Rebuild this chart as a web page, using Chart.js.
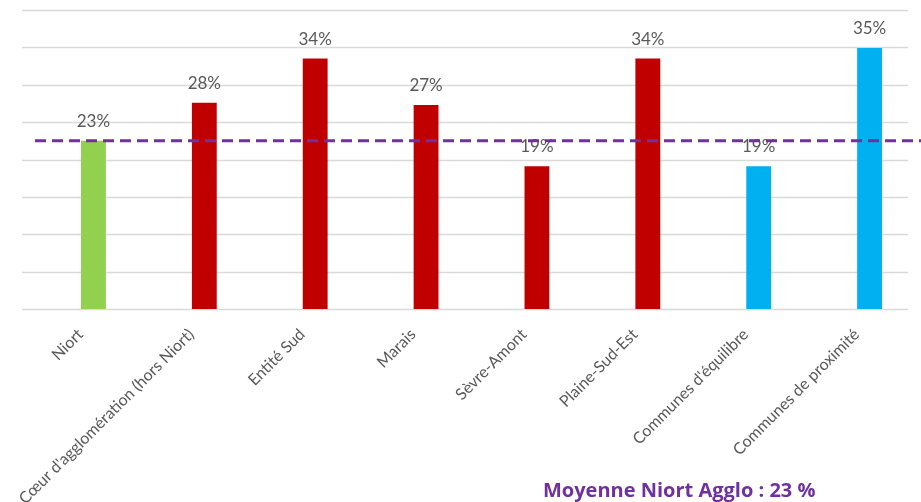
<!DOCTYPE html>
<html lang="fr">
<head>
    <meta charset="UTF-8">
    <title>Part par secteur</title>
    <script src="https://cdn.jsdelivr.net/npm/chart.js"></script>
    <style>
        html, body { margin: 0; padding: 0; background: #fff; overflow: hidden; }
        #clip { width: 921px; height: 502px; overflow: hidden; position: relative; }
        #wrap { width: 940px; height: 502px; position: relative; }
    </style>
</head>
<body>
    <div id="clip"><div id="wrap"><canvas id="chart"></canvas></div></div>

    <script>
        // données
        const categories = ['Niort', "Cœur d'agglomération (hors Niort)", 'Entité Sud', 'Marais',
            'Sèvre-Amont', 'Plaine-Sud-Est', "Communes d'équilibre", 'Communes de proximité'];
        const values = [22.5, 27.6, 33.5, 27.3, 19.1, 33.5, 19.1, 34.9];
        const labels = ['23%', '28%', '34%', '27%', '19%', '34%', '19%', '35%'];
        const barColors = ['#92D050', '#C00000', '#C00000', '#C00000', '#C00000', '#C00000', '#00B0F0', '#00B0F0'];
        const moyenne = 22.5;
        const moyenneTexte = 'Moyenne Niort Agglo : 23 %';

        // quadrillage horizontal (décalé par rapport aux barres comme dans l'original)
        const gridLines = {
            id: 'gridLines',
            beforeDatasetsDraw(chart) {
                const c = chart.ctx;
                const y = chart.scales.y;
                c.save();
                c.strokeStyle = '#d9d9d9';
                c.lineWidth = 1.5;
                y.ticks.forEach(t => {
                    const py = Math.round(y.getPixelForValue(t.value)) + 0.5;
                    c.beginPath();
                    c.moveTo(22, py);
                    c.lineTo(908, py);
                    c.stroke();
                });
                c.restore();
            }
        };

        // étiquettes au-dessus des barres
        const barLabels = {
            id: 'barLabels',
            afterDatasetsDraw(chart) {
                const c = chart.ctx;
                const meta = chart.getDatasetMeta(0);
                c.save();
                c.font = '17px Lato, sans-serif';
                c.fillStyle = '#595959';
                c.textAlign = 'center';
                c.textBaseline = 'alphabetic';
                meta.data.forEach((bar, i) => {
                    c.fillText(labels[i], bar.x, bar.y - 14);
                });
                c.restore();
            }
        };

        // ligne de moyenne + texte
        const moyenneLine = {
            id: 'moyenneLine',
            afterDraw(chart) {
                const c = chart.ctx;
                const y = chart.scales.y.getPixelForValue(moyenne);
                c.save();
                c.strokeStyle = '#7030A0';
                c.lineWidth = 3;
                c.setLineDash([11, 6]);
                c.beginPath();
                c.moveTo(35, y);
                c.lineTo(921, y);
                c.stroke();
                c.setLineDash([]);
                c.font = 'bold 20px "Open Sans", sans-serif';
                c.fillStyle = '#7030A0';
                c.textAlign = 'left';
                c.fillText(moyenneTexte, 543, 497);
                c.restore();
            }
        };

        const ctx = document.getElementById('chart').getContext('2d');
        new Chart(ctx, {
            type: 'bar',
            data: {
                labels: categories,
                datasets: [{
                    data: values,
                    backgroundColor: barColors,
                    barPercentage: 1,
                    categoryPercentage: 0.224
                }]
            },
            options: {
                responsive: true,
                maintainAspectRatio: false,
                animation: false,
                layout: { padding: { left: 38, right: 15, top: 10, bottom: 0 } },
                plugins: { legend: { display: false }, tooltip: { enabled: false } },
                scales: {
                    x: {
                        grid: { display: false },
                        border: { display: false },
                        ticks: {
                            color: '#595959',
                            font: { family: 'Lato, sans-serif', size: 16 },
                            minRotation: 45,
                            maxRotation: 45,
                            padding: 8,
                            labelOffset: -13
                        },
                        afterFit(scale) { scale.height = 193; }
                    },
                    y: {
                        min: 0,
                        max: 40,
                        ticks: { stepSize: 5, display: false },
                        grid: { display: false },
                        border: { display: false },
                        afterFit(scale) { scale.width = 0; }
                    }
                }
            },
            plugins: [gridLines, barLabels, moyenneLine]
        });
    </script>
</body>
</html>
